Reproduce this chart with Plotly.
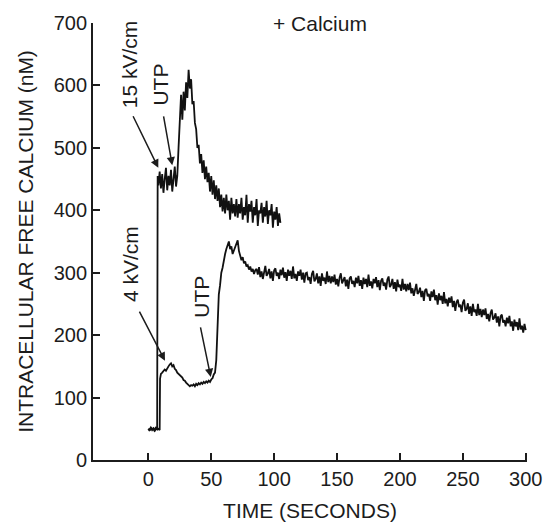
import plotly.graph_objects as go

# ---- data ----
upper_t = [0, 1, 2, 3, 4, 5, 6, 7, 7.4,
           8, 9, 10, 11, 12, 13, 14, 15, 16, 17, 18, 19, 20, 21, 22, 23,
           24, 25, 26, 27, 28, 29, 30, 31, 32, 33, 34, 35, 36, 37, 38, 39, 40,
           41, 42, 43, 44, 45, 46, 47, 48, 49, 50, 51, 52, 53, 54, 55, 56, 57,
           58, 59, 60, 61, 62, 63, 64, 65, 66, 67, 68, 69, 70, 71, 72, 73, 74,
           75, 76, 77, 78, 79, 80, 81, 82, 83, 84, 85, 86, 87, 88, 89, 90, 91,
           92, 93, 94, 95, 96, 97, 98, 99, 100, 101, 102, 103, 104, 105]
upper_y = [50, 48, 52, 49, 51, 47, 50, 49, 455,
           440, 462, 435, 458, 428, 450, 468, 432, 455, 440, 465, 430, 452, 470, 438, 455,
           500, 560, 585, 545, 590, 560, 605, 580, 625, 595, 610, 570, 575, 540, 530, 500, 505,
           475, 490, 460, 480, 450, 470, 445, 460, 430, 455, 425, 448, 418, 440, 415, 435, 405,
           425, 398, 420, 395, 425, 400, 415, 385, 420, 395, 410, 390, 418, 388, 410, 395, 420,
           385, 405, 392, 425, 380, 410, 398, 415, 380, 405, 392, 418, 375, 400, 395, 412, 380,
           405, 390, 415, 378, 400, 392, 410, 372, 398, 385, 405, 375, 395, 380]

lower_t = [0, 1, 2, 3, 4, 5, 6, 7, 8, 9, 9.3] + list(range(10, 301))
lower_y = [50, 47, 52, 48, 51, 46, 53, 49, 50, 48, 130,
           # 10-29
           138, 140, 142, 145, 143, 148, 150, 153, 155, 150, 152, 146, 144, 140, 138, 136, 134, 132, 128, 127,
           # 30-49
           124, 122, 121, 118, 120, 119, 121, 118, 122, 120, 123, 121, 124, 122, 125, 123, 126, 124, 127, 125,
           # 50-69
           129, 131, 137, 140, 160, 230, 265, 280, 300, 308, 322, 330, 338, 345, 350, 338, 342, 330, 335, 340,
           # 70-85
           348, 352, 335, 328, 320, 325, 315, 318, 310, 312, 305, 310, 302, 306, 298, 304,
           # 86-95
           306, 297, 309, 293, 302, 290, 304, 311, 295, 299,
           306, 291, 302, 287, 304, 307, 295, 300, 290, 305,
           296, 308, 292, 301, 287, 305, 295, 303, 290, 310,
           291, 298, 287, 302, 295, 305, 289, 300, 284, 299,
           # 126-135
           300, 288, 293, 282, 298, 303, 286, 290, 299, 283,
           294, 279, 299, 287, 292, 282, 302, 285, 295, 283,
           294, 285, 297, 281, 290, 278, 292, 299, 283, 287,
           293, 278, 289, 274, 291, 294, 282, 287, 277, 292,
           283, 295, 279, 288, 274, 292, 282, 290, 277, 297,
           # 176-185
           279, 286, 275, 290, 283, 293, 277, 288, 272, 287,
           291, 279, 284, 273, 289, 294, 277, 281, 290, 274,
           285, 270, 289, 277, 281, 271, 290, 273, 282, 270,
           282, 272, 284, 267, 275, 263, 276, 282, 266, 269,
           276, 261, 271, 255, 272, 274, 262, 266, 255, 270,
           # 226-235
           261, 273, 256, 264, 249, 267, 256, 263, 250, 269,
           251, 258, 246, 260, 252, 262, 245, 255, 239, 253,
           257, 245, 249, 237, 252, 257, 239, 242, 251, 234,
           246, 231, 250, 237, 241, 231, 250, 232, 242, 229,
           241, 232, 243, 226, 234, 222, 235, 241, 225, 228,
           # 276-285
           235, 220, 230, 214, 230, 233, 220, 224, 214, 228,
           219, 231, 214, 222, 207, 225, 214, 221, 208, 227,
           209, 215, 204, 218, 208]

x_ticks = [0, 50, 100, 150, 200, 250, 300]
y_ticks = [0, 100, 200, 300, 400, 500, 600, 700]

FONT = "Liberation Sans, Arial, sans-serif"
INK = "#1c1c1c"

fig = go.Figure()
fig.add_trace(go.Scatter(x=upper_t, y=upper_y, mode="lines",
                         line=dict(color="#111", width=1.8), showlegend=False))
fig.add_trace(go.Scatter(x=lower_t, y=lower_y, mode="lines",
                         line=dict(color="#111", width=1.8), showlegend=False))

fig.update_layout(
    width=544, height=527,
    margin=dict(l=93, r=17, t=23, b=67),
    paper_bgcolor="white", plot_bgcolor="white",
    font=dict(family=FONT, color=INK, size=20),
)
fig.update_xaxes(range=[-44, 301], tickvals=x_ticks, ticks="inside", ticklen=7,
                 tickwidth=1.5, tickcolor=INK, showline=True, linecolor=INK,
                 linewidth=1.8, showgrid=False, zeroline=False, automargin=False,
                 tickfont=dict(size=20),
                 title=dict(text="TIME (SECONDS)", font=dict(size=21), standoff=14))
fig.update_yaxes(range=[0, 700], tickvals=y_ticks, ticks="inside", ticklen=7,
                 tickwidth=1.5, tickcolor=INK, showline=True, linecolor=INK,
                 linewidth=1.8, showgrid=False, zeroline=False, automargin=False,
                 tickfont=dict(size=20),
                 title=dict(text="INTRACELLULAR FREE CALCIUM (nM)", font=dict(size=21), standoff=14))

# text labels
labels = [
    ("15 kV/cm", -15.4, 634),
    ("UTP", 9.9, 601),
    ("4 kV/cm", -13.7, 314),
    ("UTP", 41.6, 261),
]
for txt, x, y in labels:
    fig.add_annotation(x=x, y=y, text=txt, textangle=-90, showarrow=False,
                       font=dict(size=21, color=INK))

fig.add_annotation(x=97.4, y=700, text="+ Calcium", showarrow=False,
                   xanchor="left", yanchor="middle", font=dict(size=21, color=INK))

# arrows (tail -> head) in data units
arrows = [
    (-12.7, 553, 7.9, 468),
    (11.9, 553, 19.0, 472),
    (-7.7, 240, 13.2, 159),
    (41.2, 215, 49.6, 133),
]
for x0, y0, x1, y1 in arrows:
    fig.add_annotation(x=x1, y=y1, ax=x0, ay=y0, axref="x", ayref="y",
                       text="", showarrow=True, arrowhead=2, arrowsize=1.1,
                       arrowwidth=1.5, arrowcolor=INK, standoff=0)

fig.write_html("out.html")
